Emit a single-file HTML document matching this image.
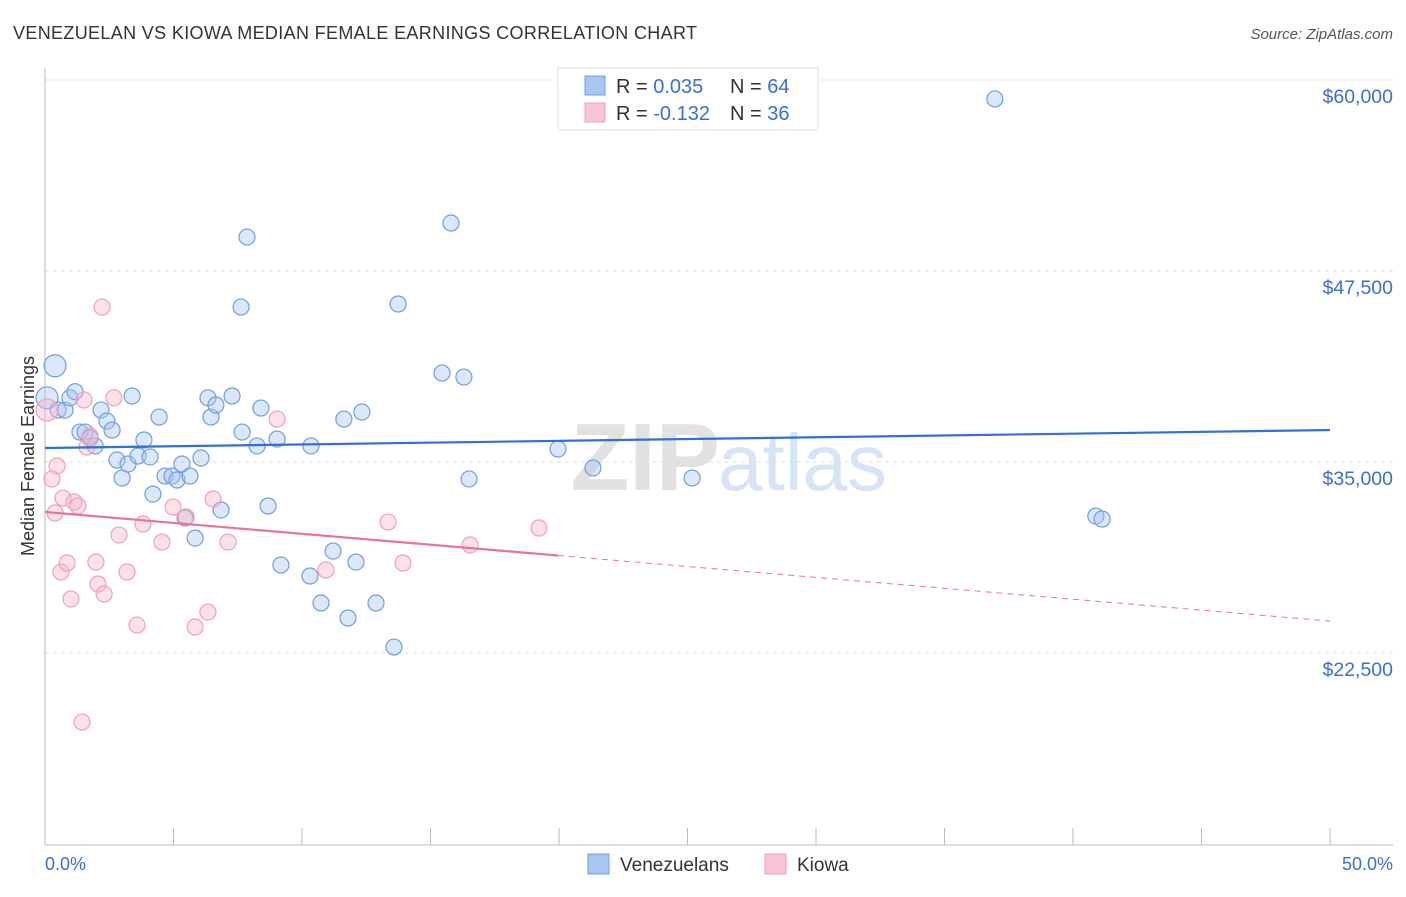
<!DOCTYPE html>
<html><head><meta charset="utf-8"><style>
body{margin:0;background:#fff;font-family:"Liberation Sans",sans-serif;}
svg text{font-family:"Liberation Sans",sans-serif;}
</style></head><body>
<svg id="chart" width="1406" height="892" xmlns="http://www.w3.org/2000/svg">
<text x="13" y="39" font-size="18" fill="#333" textLength="684">VENEZUELAN VS KIOWA MEDIAN FEMALE EARNINGS CORRELATION CHART</text>
<text x="1393" y="39" font-size="15" fill="#555" font-style="italic" text-anchor="end">Source: ZipAtlas.com</text>
<text x="720" y="490" font-size="96" fill="#e2e2e2" text-anchor="end" font-family="Liberation Serif" font-weight="bold">ZIP</text>
<text x="718" y="490" font-size="80" fill="#d6e4f6">atlas</text>
<g id="grid"></g>
<g id="axes"></g>
<g id="marks"></g>
<text transform="translate(34,456) rotate(-90)" font-size="18" fill="#333" text-anchor="middle">Median Female Earnings</text>
<text x="45" y="870" font-size="18" fill="#3b6fd4">0.0%</text>
<text x="1393" y="870" font-size="18" fill="#3b6fd4" text-anchor="end">50.0%</text>
<g>
<rect x="558" y="68" width="260" height="62" fill="#fff" stroke="#ddd"/>
<rect x="585" y="76" width="20" height="19" fill="#a9c6f3" stroke="#6f9fe0"/>
<rect x="585" y="103" width="20" height="19" fill="#f8c4d4" stroke="#f0a0b8"/>
<text x="616" y="93" font-size="20" fill="#333">R = <tspan fill="#3b6fd4">0.035</tspan><tspan x="730">N = </tspan><tspan fill="#3b6fd4">64</tspan></text>
<text x="616" y="120" font-size="20" fill="#333">R = <tspan fill="#3b6fd4">-0.132</tspan><tspan x="730">N = </tspan><tspan fill="#3b6fd4">36</tspan></text>
</g>
<g>
<rect x="588" y="854" width="21" height="20" fill="#a9c6f3" stroke="#6f9fe0"/>
<text x="620" y="871" font-size="19" fill="#333">Venezuelans</text>
<rect x="765" y="854" width="21" height="20" fill="#f8c4d4" stroke="#f0a0b8"/>
<text x="797" y="871" font-size="19" fill="#333">Kiowa</text>
</g>
</svg>
<script>
const yTicks=[22500,35000,47500,60000];
const yTickLabels=["$22,500","$35,000","$47,500","$60,000"];
const xTickVals=[0,5,10,15,20,25,30,35,40,45,50];
const venX=[0.08,0.39,0.51,0.78,0.97,1.17,1.36,1.56,1.75,1.95,2.18,2.41,2.61,2.80,3.00,3.23,3.39,3.62,3.85,4.09,4.20,4.44,4.67,4.94,5.14,5.33,5.45,5.64,5.84,6.07,6.34,6.46,6.65,6.85,7.28,7.63,7.67,7.86,8.25,8.40,8.68,9.03,9.18,10.31,10.35,10.74,11.21,11.63,11.79,12.10,12.33,12.88,13.58,13.74,15.45,15.80,16.30,16.50,19.96,21.32,25.18,36.96,40.89,41.13];
const venY=[39200,41300,38400,38400,39200,39600,36960,36960,36570,36050,38400,37680,37090,35130,33950,34870,39320,35390,36440,35330,32900,37940,34080,34080,33820,34870,31330,34080,30020,35260,39200,37940,38730,31860,39320,45140,36960,49720,36050,38530,32120,36500,28260,27540,36050,25770,29170,37810,24790,28450,38270,25770,22890,45340,40820,50640,40560,33890,35850,34610,33950,58760,31460,31270];
const kioX=[0.08,0.27,0.39,0.47,0.62,0.70,0.86,1.01,1.13,1.28,1.44,1.52,1.63,1.75,1.98,2.06,2.22,2.30,2.68,2.88,3.19,3.58,3.81,4.55,4.98,5.49,5.84,6.34,6.54,7.12,9.03,10.93,13.35,13.93,16.54,19.22];
const kioY=[38400,33890,31660,34740,27800,32640,28390,26030,32380,32120,17980,39060,35980,36700,28450,27010,45140,26360,39200,30220,27800,24330,30940,29760,32050,31400,24200,25180,32580,29760,37810,27930,31070,28390,29570,30680];
const venTrend=[35914,37090];
const kioTrend=[31730,24590];
const kioSolidEnd=19.96;
const NS="http://www.w3.org/2000/svg";
const X=v=>45+v/50*1285;
const Y=v=>80+(60000-v)/12500*191;
function mk(tag,attrs,parent){const e=document.createElementNS(NS,tag);for(const k in attrs)e.setAttribute(k,attrs[k]);document.getElementById(parent).appendChild(e);return e;}
yTicks.forEach((t,i)=>{
 const g=mk('line',{x1:45,x2:1393,y1:Y(t),y2:Y(t),stroke:'#ddd','stroke-dasharray':'4,4'},'grid');
 
 
 const l=mk('text',{x:1393,y:Y(t)+23,'font-size':19.5,fill:'#3b6fd4','text-anchor':'end'},'grid');
 l.textContent=yTickLabels[i];
 
 
});
const ax=mk('line',{x1:45,x2:1393,y1:845,y2:845,stroke:'#bbb'},'axes');


const ay=mk('line',{x1:45,x2:45,y1:68,y2:845,stroke:'#bbb'},'axes');


xTickVals.forEach(t=>{
 const e=mk('line',{x1:X(t),x2:X(t),y1:828,y2:845,stroke:'#bbb'},'axes');
 
 
});
venX.forEach((x,i)=>{
 const c=mk('circle',{cx:X(x),cy:Y(venY[i]),r:i<2?11:8,fill:'rgba(164,194,244,0.4)',stroke:'#6f9fe0','stroke-width':1.2},'marks');
 
 
});
kioX.forEach((x,i)=>{
 const c=mk('circle',{cx:X(x),cy:Y(kioY[i]),r:i<1?11:8,fill:'rgba(248,180,200,0.4)',stroke:'#f0a0b8','stroke-width':1.2},'marks');
 
 
});
const vt=mk('line',{x1:X(0),y1:Y(venTrend[0]),x2:X(50),y2:Y(venTrend[1]),stroke:'#2f6fd6','stroke-width':2.2},'marks');


const kAt=x=>kioTrend[0]+(kioTrend[1]-kioTrend[0])*x/50;
const kt=mk('line',{x1:X(0),y1:Y(kAt(0)),x2:X(kioSolidEnd),y2:Y(kAt(kioSolidEnd)),stroke:'#e8739a','stroke-width':2.2},'marks');


const kd=mk('line',{x1:X(kioSolidEnd),y1:Y(kAt(kioSolidEnd)),x2:X(50),y2:Y(kAt(50)),stroke:'#e8739a','stroke-width':1,'stroke-dasharray':'6,5'},'marks');


</script>
</body></html>
